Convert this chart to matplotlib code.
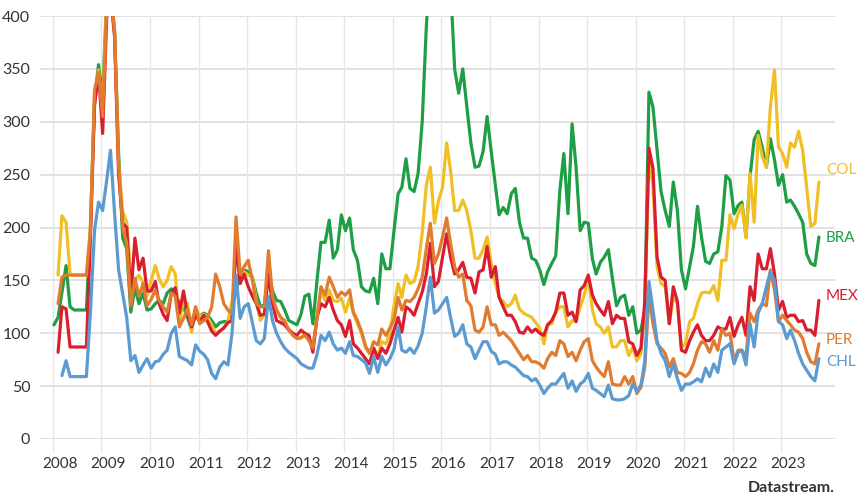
import numpy as np
import pandas as pd
import matplotlib
matplotlib.use("Agg")
import matplotlib.pyplot as plt
from matplotlib.transforms import offset_copy

nan = np.nan

# ---------------- data (monthly, Jan 2008 .. Oct 2023) ----------------
series_names = ["BRA", "COL", "MEX", "PER", "CHL"]

bra = [108, 115, 139, 164, 125, 122, 122, 122, 122, 200, 320, 354, 322, 420, 430, 385, 270, 190, 180, 120,
       143, 128, 138, 122, 123, 128, 131, 128, 138, 142, 138, 128, 125, 115, 103, 122, 116, 119, 117, 112,
       106, 110, 111, 111, 125, 140, 156, 160, 158, 153, 138, 125, 127, 160, 140, 131, 130, 122, 112, 110,
       108, 118, 135, 137, 109, 150, 186, 186, 207, 171, 179, 212, 197, 209, 179, 169, 144, 140, 139, 152,
       128, 175, 161, 161, 197, 232, 238, 265, 237, 234, 251, 300, 390, 450, 460, 470, 470, 460, 430, 350,
       327, 350, 315, 280, 257, 258, 272, 305, 272, 240, 212, 219, 213, 232, 237, 205, 190, 190, 171, 169,
       160, 146, 158, 166, 173, 235, 270, 213, 298, 257, 197, 205, 204, 170, 156, 167, 172, 179, 152, 126,
       134, 136, 117, 125, 100, 103, 122, 328, 314, 273, 234, 216, 201, 243, 216, 160, 142, 163, 182, 220,
       191, 168, 166, 175, 177, 201, 249, 245, 213, 221, 224, 191, 248, 283, 291, 276, 257, 284, 264, 240,
       250, 224, 226, 220, 213, 205, 175, 166, 164, 191]

col = [nan, 155, 211, 205, 156, 155, 155, 155, 155, 200, 324, 349, 311, 420, 430, 385, 260, 215, 205, 155,
       150, 155, 148, 135, 150, 164, 152, 144, 150, 163, 156, 110, 131, 128, 101, 125, 115, 118, 115, 108,
       100, 102, 105, 111, 130, 153, 158, 158, 155, 153, 131, 112, 118, 160, 130, 122, 115, 108, 104, 100,
       95, 95, 100, 95, 87, 115, 140, 131, 141, 131, 130, 133, 120, 133, 119, 109, 100, 86, 81, 86,
       78, 92, 90, 100, 126, 147, 134, 155, 147, 149, 163, 195, 240, 257, 204, 225, 238, 280, 254, 216,
       216, 226, 216, 197, 171, 171, 179, 191, 166, 147, 134, 130, 125, 128, 136, 123, 119, 117, 115, 110,
       105, 90, 108, 109, 120, 125, 125, 106, 112, 111, 125, 136, 153, 122, 109, 106, 100, 106, 87, 87,
       93, 93, 79, 87, 74, 81, 122, 264, 240, 163, 147, 144, 109, 134, 128, 87, 90, 111, 114, 128,
       138, 139, 138, 145, 131, 169, 169, 212, 199, 213, 221, 190, 251, 205, 287, 267, 257, 314, 349, 276,
       270, 257, 280, 276, 291, 273, 238, 201, 204, 243]

mex = [nan, 82, 125, 123, 87, 87, 87, 87, 87, 190, 315, 346, 289, 400, 420, 380, 250, 204, 200, 135,
       190, 160, 171, 140, 140, 149, 128, 118, 112, 138, 143, 119, 140, 118, 106, 117, 111, 117, 111, 102,
       98, 102, 105, 110, 112, 185, 147, 156, 144, 135, 128, 117, 118, 156, 128, 112, 110, 108, 103, 100,
       98, 103, 100, 98, 82, 115, 128, 125, 134, 122, 112, 108, 97, 112, 90, 86, 81, 76, 71, 86,
       76, 86, 81, 90, 103, 115, 101, 125, 122, 117, 128, 139, 156, 185, 144, 149, 172, 194, 172, 156,
       160, 167, 153, 152, 138, 158, 160, 182, 153, 163, 134, 125, 117, 117, 111, 101, 100, 106, 101, 104,
       100, 98, 108, 112, 120, 138, 138, 117, 120, 111, 141, 145, 155, 136, 128, 122, 117, 130, 109, 117,
       114, 114, 92, 90, 79, 86, 131, 275, 256, 172, 153, 150, 109, 144, 130, 84, 82, 93, 101, 108,
       98, 93, 93, 98, 106, 104, 104, 115, 97, 108, 115, 98, 144, 131, 175, 161, 161, 180, 156, 122,
       130, 115, 117, 117, 111, 112, 103, 103, 98, 131]

per = [nan, 128, 153, 155, 155, 155, 155, 155, 155, 195, 330, 347, 305, 410, 420, 385, 260, 200, 185, 126,
       152, 135, 147, 126, 132, 141, 131, 125, 120, 138, 135, 106, 114, 123, 108, 125, 109, 112, 115, 125,
       156, 144, 128, 122, 118, 210, 156, 163, 169, 150, 128, 125, 125, 178, 135, 122, 115, 112, 103, 98,
       95, 96, 98, 93, 86, 115, 144, 136, 153, 144, 134, 139, 136, 141, 120, 112, 102, 88, 81, 92,
       89, 104, 98, 105, 113, 134, 122, 131, 130, 134, 142, 153, 180, 204, 166, 175, 191, 209, 185, 163,
       153, 156, 131, 126, 103, 101, 106, 125, 108, 108, 98, 101, 97, 93, 87, 81, 75, 79, 73, 73,
       71, 67, 76, 82, 79, 93, 90, 78, 82, 74, 84, 92, 95, 74, 68, 63, 59, 73, 52, 51,
       51, 59, 52, 59, 43, 49, 68, 136, 109, 90, 86, 81, 68, 76, 63, 62, 59, 63, 71, 84,
       92, 90, 82, 93, 84, 104, 98, 100, 74, 84, 84, 78, 119, 111, 122, 128, 126, 160, 141, 111,
       117, 112, 108, 103, 101, 95, 82, 73, 71, 90]

chl = [nan, nan, 60, 74, 59, 59, 59, 59, 59, 120, 197, 224, 216, 245, 273, 213, 160, 137, 115, 74,
       79, 63, 70, 76, 67, 73, 74, 80, 84, 100, 106, 78, 76, 74, 70, 89, 83, 80, 75, 62,
       57, 68, 73, 70, 100, 155, 114, 125, 128, 110, 93, 90, 95, 135, 112, 100, 92, 86, 82, 79,
       76, 71, 69, 67, 67, 80, 98, 93, 101, 90, 84, 86, 81, 92, 79, 78, 75, 72, 62, 78,
       63, 78, 70, 76, 85, 106, 84, 82, 86, 81, 88, 100, 125, 153, 119, 122, 128, 134, 115, 97,
       100, 108, 90, 87, 76, 84, 92, 92, 83, 80, 71, 73, 73, 70, 68, 64, 60, 59, 55, 57,
       51, 43, 48, 52, 52, 57, 62, 48, 55, 45, 52, 55, 62, 48, 46, 43, 40, 51, 38, 37,
       37, 38, 41, 52, 45, 51, 74, 149, 122, 93, 81, 74, 59, 71, 57, 46, 52, 52, 54, 57,
       54, 67, 59, 71, 63, 84, 87, 90, 71, 82, 84, 70, 109, 87, 119, 128, 144, 158, 150, 111,
       108, 95, 103, 93, 81, 71, 65, 59, 55, 76]

years = list(range(2008, 2024))
y_ticks = [0, 50, 100, 150, 200, 250, 300, 350, 400]

colors = {"BRA": "#1e9e45", "COL": "#f0bf24", "MEX": "#d81e2f",
          "PER": "#e07b30", "CHL": "#5b9bd2"}
label_y = {"BRA": 190, "COL": 254, "MEX": 135, "PER": 94, "CHL": 73}

data = {"BRA": bra, "COL": col, "MEX": mex, "PER": per, "CHL": chl}

# ---------------- figure ----------------
plt.rcParams["font.family"] = ["Lato", "DejaVu Sans"]
W, H = 865, 496
fig = plt.figure(figsize=(W / 100, H / 100), dpi=100)
ax = fig.add_axes([40 / W, 1 - 439 / H, (835 - 40) / W, (439 - 16) / H])

dates = pd.date_range("2008-01-01", periods=len(bra), freq="MS") + pd.Timedelta(days=9)

for name in series_names:
    ax.plot(dates, data[name], color=colors[name], lw=2.3, solid_joinstyle="round",
            solid_capstyle="round", zorder=3)

ax.set_ylim(0, 400)
ax.set_xlim(pd.Timestamp("2007-09-27"), pd.Timestamp("2024-02-08"))

# horizontal grid
ax.set_yticks(y_ticks)
ax.set_yticklabels([str(v) for v in y_ticks])
ax.tick_params(axis="y", length=0, pad=7, labelsize=11.5, labelcolor="#333333")
for v in y_ticks:
    ax.axhline(v, color="#dcdcdc", lw=1.2, zorder=1)

# vertical grid at year starts, labels shifted right a little
year_starts = [pd.Timestamp(f"{y}-01-01") for y in years]
ax.set_xticks(year_starts)
ax.set_xticklabels([])
ax.tick_params(axis="x", which="major", length=9, width=1.0, color="#e6e6e6", direction="out")
for d in year_starts:
    ax.axvline(d, color="#e6e6e6", lw=1.0, zorder=1)
ax.set_xticks([d + pd.Timedelta(days=53) for d in year_starts], minor=True)
ax.set_xticklabels([str(y) for y in years], minor=True)
ax.tick_params(axis="x", which="minor", length=0, pad=13, labelsize=11, labelcolor="#333333")

for s in ax.spines.values():
    s.set_visible(False)

# right-hand labels
label_tr = offset_copy(ax.get_yaxis_transform(), fig=fig, x=-9, y=0, units="dots")
for name in series_names:
    ax.text(1.0, label_y[name], name, transform=label_tr,
            ha="left", va="center", fontsize=11, color=colors[name])

fig.text(835 / W, 1 - 488 / H, "Datastream.", ha="right", va="center",
         fontsize=11.5, fontweight="bold", color="#333333")

fig.savefig("out.png", dpi=100)
